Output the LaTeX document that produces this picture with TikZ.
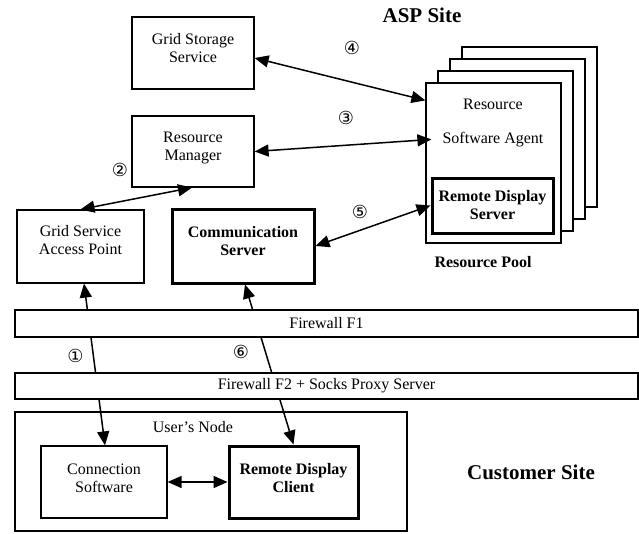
\documentclass[tikz,border=0pt]{standalone}
\usepackage{fontspec}
\setmainfont{Liberation Serif}
\newfontfamily\circfont{DejaVu Sans}
\usetikzlibrary{arrows.meta}
\begin{document}
\begin{tikzpicture}[x=1pt,y=-1pt,
  font=\fontsize{16}{18}\selectfont,
  box/.style={draw, line width=1.2pt, fill=white, inner sep=0pt},
  thickbox/.style={draw, line width=3pt, fill=white, inner sep=0pt},
  txt/.style={align=center, inner sep=0pt},
  boldtxt/.style={align=center, inner sep=0pt, font=\fontsize{16}{18}\selectfont\bfseries},
  head/.style={inner sep=0pt, font=\fontsize{21}{24}\selectfont\bfseries},
  num/.style={inner sep=0pt, font=\circfont\fontsize{18}{20}\selectfont},
  tip/.tip={Triangle[length=14pt,width=12pt]},
  link/.style={line width=1.5pt, tip-tip},
  upward/.style={line width=1.5pt, tip-tip}]
\path[use as bounding box] (0,0) rectangle (639,533);

% ASP site
\node[head] (asp) at (422,15) {ASP Site};
\node[box, minimum width=122pt, minimum height=72pt] (gss) at (193,53) {};
\node[txt] (gsst) at (193,48) {Grid Storage\\Service};
\node[box, minimum width=122pt, minimum height=71pt] (rm) at (193,151.5) {};
\node[txt] (rmt) at (193,148) {Resource\\Manager};
\node[box, minimum width=127pt, minimum height=73pt] (gsap) at (80.5,246.5) {};
\node[txt] (gsapt) at (80.5,240) {Grid Service\\Access Point};
\node[thickbox, minimum width=142pt, minimum height=74pt] (comm) at (243,246) {};
\node[boldtxt] (commt) at (243,241) {Communication\\Server};

% resource pool stack
\node[box, minimum width=135pt, minimum height=160pt] (p4) at (529.5,127) {};
\node[box, minimum width=135pt, minimum height=160pt] (p3) at (517.5,139) {};
\node[box, minimum width=135pt, minimum height=160pt] (p2) at (505.5,151) {};
\node[box, minimum width=135pt, minimum height=160pt] (front) at (493.5,163) {};
\node[txt] (rest) at (493,104) {Resource};
\node[txt] (sat) at (493,140) {Software Agent};
\node[thickbox, minimum width=121pt, minimum height=55pt] (rds) at (492.5,205.5) {};
\node[boldtxt] (rdst) at (492.5,205) {Remote Display\\Server};
\node[boldtxt] (pool) at (483,262) {Resource Pool};

% customer site
\node[draw, line width=1.2pt, minimum width=392pt, minimum height=119pt, inner sep=0pt] (user) at (211,471.5) {};
\node[txt] (usert) at (193,427) {User’s Node};
\node[box, minimum width=126pt, minimum height=72pt] (cs) at (104,482) {};
\node[txt] (cst) at (104,478) {Connection\\Software};
\node[thickbox, minimum width=129pt, minimum height=72pt] (rdc) at (293.5,482) {};
\node[boldtxt] (rdct) at (293.5,478) {Remote Display\\Client};
\node[head] (cust) at (531,472) {Customer Site};

% numbers
\node[num] (n1) at (75.5,356) {①};
\node[num] (n2) at (120,170) {②};
\node[num] (n3) at (346,118) {③};
\node[num] (n4) at (352,48) {④};
\node[num] (n5) at (360,212) {⑤};
\node[num] (n6) at (241,352) {⑥};

% connectors
\draw[link] ([yshift=-5pt]gss.east) -- ([yshift=-18pt]front.north west);
\draw[link] (rm.east) -- ([xshift=6pt,yshift=-57pt]front.north west);
\draw[link] (gsap.north) -- ([xshift=-1pt]rm.south);
\draw[link] (comm.east) -- (rds.west);
\draw[link] (cs.east) -- (rdc.west);
\draw[upward] ([xshift=1pt]cs.north) -- ([xshift=3.5pt]gsap.south);
\draw[upward] (rdc.north) -- ([xshift=2pt]comm.south);

% firewalls
\node[box, minimum width=623pt, minimum height=27pt] (f1) at (326.5,323.5) {};
\node[txt] (f1t) at (326.5,323.5) {Firewall F1};
\node[box, minimum width=623pt, minimum height=26pt] (f2) at (326.5,386) {};
\node[txt] (f2t) at (326.5,386) {Firewall F2 + Socks Proxy Server};
\end{tikzpicture}
\end{document}
